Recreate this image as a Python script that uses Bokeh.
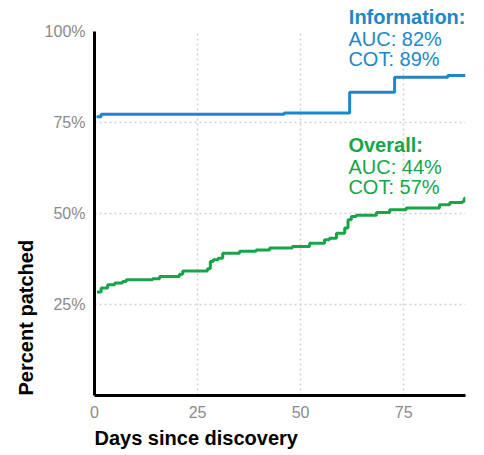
from bokeh.plotting import figure
from bokeh.models import Range1d, FixedTicker, PrintfTickFormatter, Label, Title, Spacer
from bokeh.layouts import row
from bokeh.embed import file_html
from bokeh.resources import INLINE

# ---- data ----
days_info = [0.5, 1.6, 46.0, 61.9, 72.8, 85.7, 90.0]
pct_info = [76.6, 77.3, 77.6, 83.3, 87.4, 87.9, 87.9]

days_overall = [0.6, 1.6, 3.2, 4.9, 6.8, 7.7, 14.1, 15.8, 20.6, 21.4, 27.4, 28.1, 28.8,
                30.0, 31.1, 35.2, 39.2, 42.5, 48.0, 52.2, 55.8, 57.0, 58.7, 60.7, 61.5,
                62.3, 63.5, 68.4, 71.6, 75.6, 83.7, 86.2, 89.3, 89.7, 90.0]
pct_overall = [28.4, 29.5, 30.4, 30.9, 31.3, 31.8, 32.1, 32.7, 33.3, 34.2, 34.8, 36.8, 37.3,
               37.7, 39.1, 39.6, 40.0, 40.5, 40.9, 41.8, 42.8, 43.2, 44.6, 46.0, 48.3,
               49.2, 49.5, 50.3, 51.0, 51.5, 52.4, 53.0, 53.3, 54.2, 54.2]

x_ticks = [0, 25, 50, 75]
y_ticks = [25, 50, 75, 100]

info_title = "Information:"
info_lines = ["AUC: 82%", "COT: 89%"]
info_y = [98.0, 92.5]
overall_lines = ["Overall:", "AUC: 44%", "COT: 57%"]
overall_y = [68.8, 62.9, 57.4]
label_x = 61.6

BLUE = "#1f87c7"
GREEN = "#17a548"
FONT = "Liberation Sans"

p = figure(frame_width=371, frame_height=364, output_backend="svg", toolbar_location=None,
           x_range=Range1d(0, 90), y_range=Range1d(0, 100),
           min_border_left=10, min_border_top=10, min_border_right=10, min_border_bottom=5)
p.outline_line_color = None
p.background_fill_color = "white"
p.border_fill_color = "white"

for ax, ticks in ((p.xaxis[0], x_ticks), (p.yaxis[0], y_ticks)):
    ax.ticker = FixedTicker(ticks=ticks)
    ax.major_tick_line_color = None
    ax.minor_tick_line_color = None
    ax.axis_line_color = "black"
    ax.axis_line_width = 3
    ax.major_label_text_font = FONT
    ax.major_label_text_font_size = "16px"
    ax.major_label_text_color = "#8a8a8a"

p.yaxis[0].formatter = PrintfTickFormatter(format="%d%%")
p.xaxis[0].major_label_standoff = 4
p.yaxis[0].major_label_standoff = 3

p.add_layout(Title(text="Days since discovery", align="left", text_font=FONT,
                   text_font_size="20px", text_font_style="bold", text_color="black",
                   standoff=8), "below")
p.add_layout(Title(text="Percent patched", align="left", text_font=FONT,
                   text_font_size="20px", text_font_style="bold", text_color="black",
                   standoff=10), "left")
p.add_layout(Title(text=info_title, align="right", text_font=FONT,
                   text_font_size="20px", text_font_style="bold", text_color=BLUE,
                   standoff=7), "above")

for g, ticks in ((p.xgrid[0], x_ticks), (p.ygrid[0], y_ticks)):
    g.ticker = FixedTicker(ticks=ticks)
    g.grid_line_color = "#cfcfcf"
    g.grid_line_dash = "2 3"
    g.grid_line_width = 1.5

p.step(days_info, pct_info, mode="after", line_color=BLUE, line_width=3)
p.step(days_overall, pct_overall, mode="after", line_color=GREEN, line_width=3)

for lines, ys, col, bold_first in ((info_lines, info_y, BLUE, False),
                                    (overall_lines, overall_y, GREEN, True)):
    for i, (t, yy) in enumerate(zip(lines, ys)):
        p.add_layout(Label(x=label_x, y=yy, text=t, text_color=col, text_font=FONT,
                           text_font_size="20px", text_baseline="alphabetic",
                           text_font_style="bold" if (bold_first and i == 0) else "normal"))

layout = row(Spacer(width=7, height=10), p)
open("out.html", "w").write(file_html(layout, INLINE))
